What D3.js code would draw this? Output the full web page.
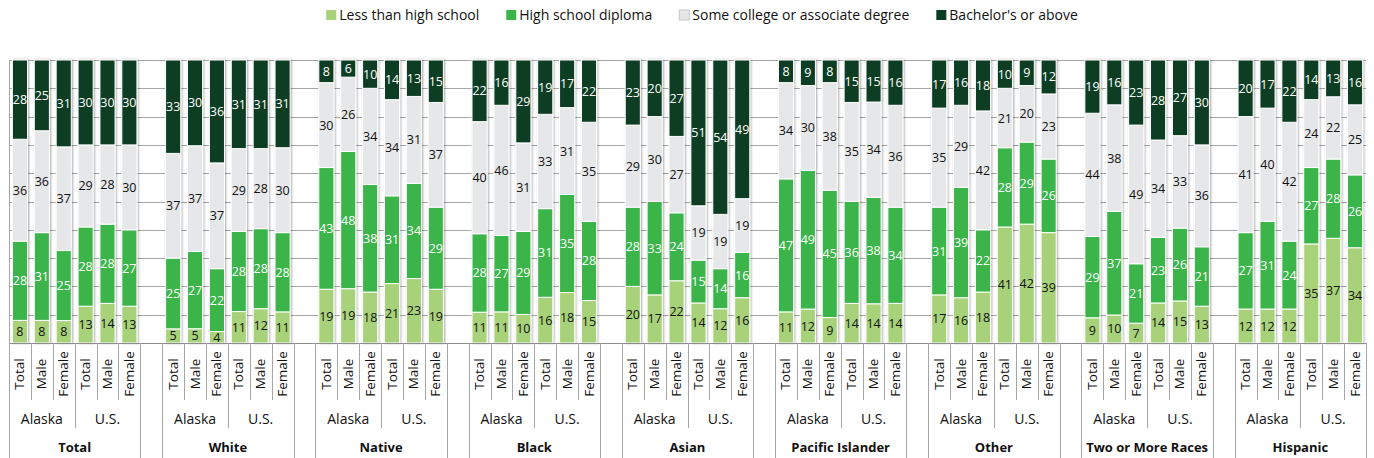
<!DOCTYPE html>
<html>
<head>
<meta charset="utf-8">
<script src="https://cdn.jsdelivr.net/npm/d3@7"></script>
<style>
  body { margin: 0; background: #fff; }
  svg { font-family: "Open Sans", sans-serif; }
</style>
</head>
<body>
<div id="chart-area"></div>
<script>
// education attainment, percent of adults 25+
var groups = ["Total", "White", "Native", "Black", "Asian", "Pacific Islander", "Other", "Two or More Races", "Hispanic"];
var places = ["Alaska", "U.S."];
var sexes = ["Total", "Male", "Female"];
var seriesNames = ["Less than high school", "High school diploma", "Some college or associate degree", "Bachelor's or above"];

// one value per bar, order: group > place > sex
var lessThanHS = [8, 8, 8, 13, 14, 13,   5, 5, 4, 11, 12, 11,   19, 19, 18, 21, 23, 19,
                  11, 11, 10, 16, 18, 15,   20, 17, 22, 14, 12, 16,   11, 12, 9, 14, 14, 14,
                  17, 16, 18, 41, 42, 39,   9, 10, 7, 14, 15, 13,   12, 12, 12, 35, 37, 34];
var hsDiploma = [28, 31, 25, 28, 28, 27,   25, 27, 22, 28, 28, 28,   43, 48, 38, 31, 34, 29,
                 28, 27, 29, 31, 35, 28,   28, 33, 24, 15, 14, 16,   47, 49, 45, 36, 38, 34,
                 31, 39, 22, 28, 29, 26,   29, 37, 21, 23, 26, 21,   27, 31, 24, 27, 28, 26];
var someCollege = [36, 36, 37, 29, 28, 30,   37, 37, 37, 29, 28, 30,   30, 26, 34, 34, 31, 37,
                   40, 46, 31, 33, 31, 35,   29, 30, 27, 19, 19, 19,   34, 30, 38, 35, 34, 36,
                   35, 29, 42, 21, 20, 23,   44, 38, 49, 34, 33, 36,   41, 40, 42, 24, 22, 25];
var bachelors = [28, 25, 31, 30, 30, 30,   33, 30, 36, 31, 31, 31,   8, 6, 10, 14, 13, 15,
                 22, 16, 29, 19, 17, 22,   23, 20, 27, 51, 54, 49,   8, 9, 8, 15, 15, 16,
                 17, 16, 18, 10, 9, 12,   19, 16, 23, 28, 27, 30,   20, 17, 22, 14, 13, 16];

var colours = ["#a8d27a", "#3bb44a", "#e6e7e8", "#0a3d22"];
var labelColours = ["#111111", "#ffffff", "#111111", "#ffffff"];

var width = 1374, height = 458;
var plotLeft = 9, plotRight = 1366, plotTop = 60, plotBottom = 343;

var svg = d3.select("#chart-area").append("svg")
    .attr("width", width)
    .attr("height", height);

var defs = svg.append("defs");
defs.append("filter")
    .attr("id", "shadow")
    .attr("x", "-40%").attr("y", "-5%")
    .attr("width", "180%").attr("height", "110%")
  .append("feDropShadow")
    .attr("dx", 1).attr("dy", 0)
    .attr("stdDeviation", 1)
    .attr("flood-color", "#000")
    .attr("flood-opacity", 0.35);

// build rows and slots (a blank slot sits between race groups)
var rows = [];
var slots = [];
groups.forEach((g, gi) => {
    places.forEach((p, pi) => {
        sexes.forEach((s, si) => {
            var i = gi * 6 + pi * 3 + si;
            var id = gi + "-" + pi + "-" + si;
            rows.push({id: id, group: g, place: p, sex: s,
                v: [lessThanHS[i], hsDiploma[i], someCollege[i], bachelors[i]]});
            slots.push(id);
        });
    });
    if (gi < groups.length - 1) slots.push("gap" + gi);
});

var x = d3.scaleBand()
    .domain(slots)
    .range([plotLeft, plotRight]);

var y = d3.scaleLinear()
    .domain([0, 1])
    .range([plotBottom, plotTop]);

var barW = x.bandwidth() * 0.69;
var barOff = (x.bandwidth() - barW) / 2;

// gridlines
svg.append("g").selectAll("line")
    .data(d3.range(1, 11).map(d => d / 10))
    .enter().append("line")
        .attr("x1", plotLeft).attr("x2", plotRight)
        .attr("y1", d => Math.round(y(d)) + 0.5)
        .attr("y2", d => Math.round(y(d)) + 0.5)
        .attr("stroke", "#a6a6a6")
        .attr("stroke-width", 1);

var stack = d3.stack()
    .keys([0, 1, 2, 3])
    .value((d, k) => d.v[k])
    .offset(d3.stackOffsetExpand);

var stacked = stack(rows);

// per-bar groups so the shadow wraps the whole bar
var bars = svg.append("g").selectAll("g")
    .data(rows)
    .enter().append("g")
        .attr("filter", "url(#shadow)");

bars.selectAll("rect")
    .data((d, i) => stacked.map(s => ({k: s.key, lo: s[i][0], hi: s[i][1], row: d})))
    .enter().append("rect")
        .attr("x", d => x(d.row.id) + barOff)
        .attr("y", d => y(d.hi))
        .attr("width", barW)
        .attr("height", d => y(d.lo) - y(d.hi))
        .attr("fill", d => colours[d.k])
        .attr("stroke", "#fff")
        .attr("stroke-width", 1);

// value labels
var labels = svg.append("g")
    .attr("font-size", "12.5px")
    .attr("text-anchor", "middle");
stacked.forEach(s => {
    labels.selectAll(null)
        .data(s)
        .enter().append("text")
            .attr("x", d => x(d.data.id) + x.bandwidth() / 2)
            .attr("y", d => (y(d[0]) + y(d[1])) / 2)
            .attr("dy", "0.36em")
            .attr("fill", labelColours[s.key])
            .text(d => d.data.v[s.key]);
});

// bottom axis line and left border
svg.append("line")
    .attr("x1", plotLeft).attr("x2", plotRight)
    .attr("y1", plotBottom + 0.5).attr("y2", plotBottom + 0.5)
    .attr("stroke", "#8c8c8c");
svg.append("line")
    .attr("x1", plotLeft + 0.5).attr("x2", plotLeft + 0.5)
    .attr("y1", plotTop).attr("y2", plotBottom)
    .attr("stroke", "#a6a6a6");

// multi-level category axis
var axis = svg.append("g").attr("fill", "#111");
var boundaries = d3.range(slots.length + 1);
axis.selectAll("line")
    .data(boundaries)
    .enter().append("line")
        .attr("x1", b => Math.round(plotLeft + b * x.step()) + 0.5)
        .attr("x2", b => Math.round(plotLeft + b * x.step()) + 0.5)
        .attr("y1", plotBottom)
        .attr("y2", b => {
            var left = slots[b - 1], right = slots[b];
            if (!left || !right || left.startsWith("gap") || right.startsWith("gap")) return height;
            if (right.endsWith("-1-0")) return 428;
            return 400;
        })
        .attr("stroke", "#a6a6a6");

axis.selectAll(".sex")
    .data(rows)
    .enter().append("text")
        .attr("class", "sex")
        .attr("font-size", "13.5px")
        .attr("text-anchor", "middle")
        .attr("transform", d => "translate(" + (x(d.id) + x.bandwidth() / 2 + 4.5) + ",374) rotate(-90)")
        .text(d => d.sex);

var placeRows = rows.filter(d => d.sex === "Total");
axis.selectAll(".place")
    .data(placeRows)
    .enter().append("text")
        .attr("class", "place")
        .attr("font-size", "14px")
        .attr("text-anchor", "middle")
        .attr("x", d => x(d.id) + x.step() * 1.5)
        .attr("y", 424)
        .text(d => d.place);

var groupRows = rows.filter(d => d.sex === "Total" && d.place === "Alaska");
axis.selectAll(".group")
    .data(groupRows)
    .enter().append("text")
        .attr("class", "group")
        .attr("font-size", "13px")
        .attr("font-weight", "bold")
        .attr("text-anchor", "middle")
        .attr("x", d => x(d.id) + x.step() * 3)
        .attr("y", 452)
        .text(d => d.group);

// legend
var legendGap = 27;
var legend = svg.append("g").attr("font-size", "14px").attr("fill", "#111");
var cursor = 0;
seriesNames.forEach((name, i) => {
    var item = legend.append("g");
    item.append("rect")
        .attr("x", 0).attr("y", -10)
        .attr("width", 10).attr("height", 10)
        .attr("fill", colours[i])
        .attr("stroke", i === 2 ? "#c8c8c8" : "none");
    var t = item.append("text").attr("x", 13).attr("y", 0).text(name);
    var w = 13 + t.node().getComputedTextLength();
    item.attr("transform", "translate(" + cursor + ",20)");
    cursor += w + legendGap;
});
var legendW = cursor - legendGap;
legend.attr("transform", "translate(" + (702 - legendW / 2) + ",0)");
</script>
</body>
</html>
